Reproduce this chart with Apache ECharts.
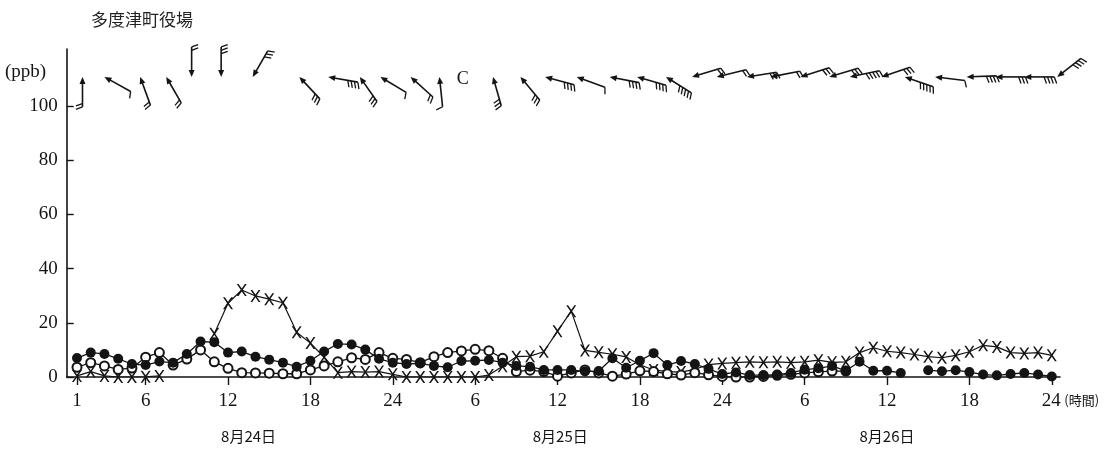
<!DOCTYPE html>
<html><head><meta charset="utf-8">
<script src="https://cdn.jsdelivr.net/npm/echarts@6/dist/echarts.min.js"></script>
<style>html,body{margin:0;padding:0;background:#fff}#c{width:1119px;height:452px}</style>
</head><body><div id="c"></div>
<script>
// ---- data ----
const titleText = '多度津町役場';
const unitText = '(ppb)';
const dayLabels = ['8月24日', '8月25日', '8月26日'];
const dayLabelHour = [13.5, 36.2, 60.0];
const tickHours = [1, 6, 12, 18, 24, 30, 36, 42, 48, 54, 60, 66, 72];
const tickLabels = ['1', '6', '12', '18', '24', '6', '12', '18', '24', '6', '12', '18', '24'];
const yTicks = [0, 20, 40, 60, 80, 100];

// filled circles (hourly, 8/24 1h .. 8/26 24h)
const filledSeries = [
  7.0, 9.0, 8.5, 6.7, 4.8, 4.4, 5.7, 5.3, 8.5, 13.1, 12.8, 9.0, 9.4, 7.5, 6.4, 5.3, 3.8, 6.0, 9.4, 12.2, 12.0, 10.1, 6.7, 5.3,
  4.8, 5.0, 4.1, 3.6, 5.9, 6.0, 6.3, 5.3, 4.1, 3.8, 2.6, 2.6, 2.6, 2.0, 2.2, 6.9, 3.4, 6.0, 8.8, 4.4, 5.9, 4.8, 3.0, 1.1,
  1.7, 0.7, 0.7, 0.9, 1.5, 2.7, 3.2, 4.1, 2.3, 5.6, 2.3, 2.3, 1.5, null, 2.5, 2.1, 2.5, 1.8, 0.9, 0.6, 1.1, 1.5, 0.9, 0.2
];
// open circles
const openSeries = [
  3.6, 5.3, 4.1, 2.8, 3.3, 7.3, 9.0, 4.4, 6.6, 10.0, 5.6, 3.2, 1.6, 1.5, 1.4, 1.2, 1.2, 2.6, 4.1, 5.6, 7.1, 6.5, 9.0, 6.9,
  6.5, 5.3, 7.5, 9.0, 9.6, 10.2, 9.7, 6.9, 2.0, 2.5, 2.0, 0.3, 1.5, 2.6, 1.5, 0.3, 1.1, 2.3, 2.0, 1.2, 0.7, 1.6, 0.8, 0.2,
  0.0, 0.0, 0.2, 0.6, 1.0, 1.5, 1.9, 2.2, 2.2, null, null, null, null, null, null, null, null, null, null, null, null, null, null, null
];
// crosses
const crossSeries = [
  0.4, 2.0, 0.4, 0.0, 0.0, 0.1, 0.4, null, null, null, 16.0, 27.2, 32.1, 29.9, 28.7, 27.4, 16.5, 12.5, 7.3, 1.6, 2.0, 1.8, 2.0, 1.0,
  0.0, 0.0, 0.0, 0.0, 0.0, 0.0, 0.7, 4.0, 7.5, 7.7, 9.3, 16.9, 24.3, 9.8, 9.1, 8.4, 7.4, 4.5, 2.6, 2.0, 1.8, 2.8, 4.6, 5.0,
  5.3, 5.6, 5.4, 5.6, 5.3, 5.6, 6.2, 5.4, 5.6, 9.0, 10.8, 9.5, 9.0, 8.3, 7.5, 7.1, 8.0, 9.3, 11.7, 11.1, 9.0, 8.7, 9.0, 8.0
];

// wind arrows: hour of arrow head, bearing the arrow points to (deg, null = calm "C"), number of feathers
const windHour = [1.4, 3.0, 5.6, 7.5, 9.35, 11.5, 13.8, 17.2, 19.3, 21.6, 23.1, 25.3, 27.4, 29.1, 31.3, 33.3, 35.1, 37.4,
  39.8, 41.8, 43.9, 45.8, 47.6, 49.8, 51.5, 53.7, 55.8, 57.3, 59.6, 61.3, 63.5, 65.8, 67.9, 70.0, 72.4];
const windDir = [0, 299, 340, 330, 180, 180, 210, 317, 280, 325, 301, 312, 354, null, 344, 320, 285, 290,
  281, 286, 302, 253, 256, 261, 259, 252, 253, 258, 251, 289, 277, 268, 270, 270, 232];
const windForce = [2, 1, 2, 2, 2, 3, 3, 3, 4, 3, 1, 2, 1, 0, 3, 3, 4, 1,
  4, 4, 5, 2, 2, 3, 2, 3, 3, 5, 3, 5, 1, 4, 3, 4, 4];

// ---- chart ----
const INK = '#141414';
const SERIF = '"Liberation Serif", "DejaVu Serif", serif';
const WIND_Y = 110.7;

function toPairs(arr) { return arr.map((v, i) => [i + 1, v]); }
const windData = windHour.map((h, k) => [h, windDir[k] == null ? -1 : windDir[k], windForce[k], WIND_Y]);

const crossPath = 'path://M0,0 L1.8,0 L5,4.6 L8.2,0 L10,0 L5.9,6 L10,12 L8.2,12 L5,7.4 L1.8,12 L0,12 L4.1,6 Z';

function renderWind(params, api) {
  const h = api.value(0), dir = api.value(1), force = api.value(2);
  const head = api.coord([h, api.value(3)]);
  if (dir < 0) {
    return { type: 'text', style: { text: 'C', x: head[0], y: head[1] + 2, align: 'center', verticalAlign: 'middle',
      font: '18px ' + SERIF, fill: INK } };
  }
  const r = dir * Math.PI / 180;
  const dx = Math.sin(r), dy = -Math.cos(r);
  const px = dy, py = -dx;
  const L = 30;
  const tail = [head[0] - dx * L, head[1] - dy * L];
  const children = [];
  children.push({ type: 'line', shape: { x1: tail[0], y1: tail[1], x2: head[0] - dx * 3, y2: head[1] - dy * 3 },
    style: { stroke: INK, lineWidth: 1.6 } });
  children.push({ type: 'polygon', shape: { points: [
    [head[0], head[1]],
    [head[0] - dx * 7 + px * 3, head[1] - dy * 7 + py * 3],
    [head[0] - dx * 7 - px * 3, head[1] - dy * 7 - py * 3]
  ] }, style: { fill: INK } });
  const a = 20 * Math.PI / 180;
  const fx = px * Math.cos(a) - dx * Math.sin(a), fy = py * Math.cos(a) - dy * Math.sin(a);
  for (let k = 0; k < force; k++) {
    const bx = tail[0] + dx * (k * 3.4), by = tail[1] + dy * (k * 3.4);
    children.push({ type: 'line', shape: { x1: bx, y1: by, x2: bx + fx * 7, y2: by + fy * 7 },
      style: { stroke: INK, lineWidth: 1.3 } });
  }
  return { type: 'group', children: children };
}

const chart = echarts.init(document.getElementById('c'), null, { renderer: 'canvas' });
chart.setOption({
  animation: false,
  backgroundColor: '#ffffff',
  title: { text: titleText, left: 86, top: 6,
    textStyle: { fontFamily: '"Noto Sans CJK JP", sans-serif', fontWeight: 'normal', fontSize: 17, color: '#222' } },
  graphic: [{ type: 'text', left: 5, top: 63, style: { text: unitText, font: '19px ' + SERIF, fill: INK } }],
  grid: { left: 66.7, right: 59, top: 49, bottom: 75, containLabel: false, outerBoundsMode: 'none' },
  xAxis: [{
    type: 'value', min: 0.25, max: 72.6,
    splitLine: { show: false },
    axisLine: { show: true, lineStyle: { color: INK, width: 1.6 } },
    axisTick: { show: true, customValues: tickHours, length: 8, lineStyle: { color: INK, width: 1.4 } },
    axisLabel: {
      customValues: tickHours, margin: 15, color: INK, fontFamily: SERIF, fontSize: 19, hideOverlap: false,
      formatter: function (v, i) {
        const k = tickHours.indexOf(Math.round(v));
        const t = k >= 0 ? tickLabels[k] : '';
        return k === tickHours.length - 1 ? '{p|}' + t + '{u|(時間)}' : t;
      },
      rich: {
        p: { width: 40 },
        u: { fontFamily: '"Noto Sans CJK JP", sans-serif', fontSize: 13, color: INK, width: 40, padding: [0, 0, 2, 1] }
      }
    }
  }, {
    type: 'value', min: 0.25, max: 72.6, position: 'bottom',
    splitLine: { show: false }, axisLine: { show: false }, axisTick: { show: false },
    axisLabel: {
      customValues: dayLabelHour, margin: 52, color: INK, hideOverlap: false,
      fontFamily: '"Noto Sans CJK JP", sans-serif', fontSize: 15,
      formatter: function (v, i) {
        let best = 0;
        dayLabelHour.forEach((d, k) => { if (Math.abs(d - v) < Math.abs(dayLabelHour[best] - v)) best = k; });
        return dayLabels[best];
      }
    }
  }],
  yAxis: {
    type: 'value', min: 0, max: 121,
    splitLine: { show: false },
    axisLine: { show: true, lineStyle: { color: INK, width: 1.6 } },
    axisTick: { show: true, inside: true, customValues: yTicks, length: 7, lineStyle: { color: INK, width: 1.4 } },
    axisLabel: { customValues: yTicks, margin: 9, color: INK, fontFamily: SERIF, fontSize: 19 }
  },
  series: [
    { name: 'open', type: 'line', data: toPairs(openSeries), symbol: 'emptyCircle', symbolSize: 9,
      lineStyle: { color: INK, width: 1.3 }, itemStyle: { color: INK, borderWidth: 1.6 }, z: 3 },
    { name: 'cross', type: 'line', data: toPairs(crossSeries), symbol: crossPath, symbolSize: [10, 12],
      lineStyle: { color: INK, width: 1.2 }, itemStyle: { color: INK }, z: 2 },
    { name: 'filled', type: 'line', data: toPairs(filledSeries), symbol: 'circle', symbolSize: 10,
      lineStyle: { color: INK, width: 1.3 }, itemStyle: { color: INK }, z: 4 },
    { name: 'wind', type: 'custom', data: windData, renderItem: renderWind, encode: { x: 0, y: 3 }, clip: false, z: 5 }
  ]
});
</script>
</body></html>
